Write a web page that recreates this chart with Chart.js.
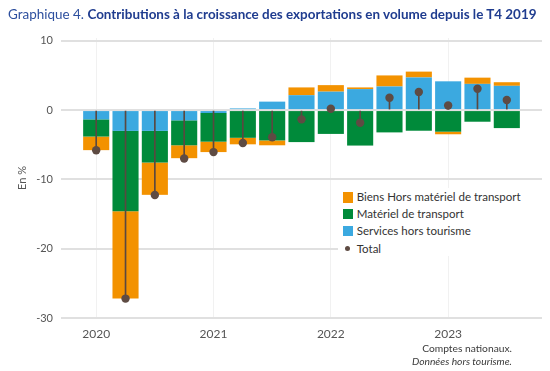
<!DOCTYPE html>
<html><head><meta charset="utf-8">
<script src="https://cdn.jsdelivr.net/npm/chart.js@4.4.1/dist/chart.umd.min.js"></script>
<style>
html,body{margin:0;padding:0;background:#fff;}
#wrap{position:relative;width:550px;height:371px;overflow:hidden;font-family:Lato,"Open Sans",sans-serif;}
#c{position:absolute;left:0;top:0;}
#title{position:absolute;left:8px;top:5px;white-space:nowrap;font-size:13px;line-height:18px;color:#1f3c8f;}
#title .lead{font-weight:400;color:#2d4f9e;}
#title b{font-weight:700;}
#legend{position:absolute;left:338px;top:188px;width:204px;height:68px;background:#fff;}
.li{position:absolute;left:0;height:14px;line-height:14px;font-size:11.5px;color:#333;white-space:nowrap;}
.li .sw{position:absolute;top:1.7px;}
.li .tx{position:absolute;left:18.7px;top:0;}
#foot{position:absolute;right:38px;top:342px;text-align:right;font-size:11px;color:#3a3a3a;line-height:13px;white-space:nowrap;}
#foot i{font-style:italic;}
</style></head>
<body>
<div id="wrap">
<canvas id="c" width="550" height="371"></canvas>
<div id="title"><span class="lead">Graphique 4.</span> <b>Contributions à la croissance des exportations en volume depuis le T4 2019</b></div>
<div id="legend"></div>
<div id="foot"><div id="f1">Comptes nationaux.</div><div><i>Données hors tourisme.</i></div></div>
</div>
<script>
const quarters = ['T1 2020','T2 2020','T3 2020','T4 2020','T1 2021','T2 2021','T3 2021','T4 2021','T1 2022','T2 2022','T3 2022','T4 2022','T1 2023','T2 2023','T3 2023'];
const services  = [-1.34, -3.0, -3.0, -1.48, -0.42, 0.24, 1.22, 2.15, 2.66, 3.03, 3.41, 4.71, 4.15, 3.78, 3.5];
const transport = [-2.48, -11.6, -4.57, -3.6, -4.14, -4.0, -4.38, -4.62, -3.44, -5.12, -3.22, -2.98, -3.12, -1.68, -2.6];
const biens     = [-1.96, -12.6, -4.66, -1.86, -1.5, -0.94, -0.7, 1.12, 0.94, 0.24, 1.59, 0.84, -0.37, 0.9, 0.52];
const total     = [-5.8, -27.2, -12.25, -6.99, -6.06, -4.75, -3.92, -1.34, 0.2, -1.82, 1.78, 2.62, 0.66, 3.08, 1.45];
const yearTicks = [2020, 2021, 2022, 2023];

const FONT = 'Lato, "Open Sans", sans-serif';
const COL = {biens:'#F39200', transport:'#008A3A', services:'#3BA9E0', total:'#5E4B43', stick:'#5A4840'};

// position of each quarter on the time axis (years)
const xs = quarters.map(q => parseInt(q.slice(3), 10) + (parseInt(q.charAt(1), 10) - 1) / 4);
const pts = arr => arr.map((v, i) => ({x: xs[i], y: v}));

const data = {
  datasets: [
    {type:'bar', label:'Services hors tourisme', data:pts(services), backgroundColor:COL.services, stack:'main', order:3},
    {type:'bar', label:'Matériel de transport', data:pts(transport), backgroundColor:COL.transport, stack:'main', order:3},
    {type:'bar', label:'Biens Hors matériel de transport', data:pts(biens), backgroundColor:COL.biens, stack:'main', order:3},
    {type:'bar', label:'_stick', data:pts(total), backgroundColor:COL.stick, stack:'stick', grouped:false, barThickness:1, order:2},
    {type:'line', label:'Total', data:pts(total), showLine:false, pointRadius:4.2, pointHoverRadius:4.2,
     pointBackgroundColor:COL.total, pointBorderColor:COL.total, pointBorderWidth:0, stack:'dots', order:1}
  ]
};

const chart = new Chart(document.getElementById('c'), {
  type:'bar',
  data,
  options:{
    responsive:false, animation:false, devicePixelRatio:1,
    layout:{padding:{top:38, right:8, left:12, bottom:0}},
    barPercentage:0.89, categoryPercentage:1.0,
    plugins:{legend:{display:false}, tooltip:{enabled:false}, title:{display:false}},
    scales:{
      x:{type:'linear', stacked:true, offset:false, min:2019.7, max:2023.8,
         afterFit(s){ s.height = 53; },
         afterBuildTicks(s){ s.ticks = yearTicks.map(v => ({value:v})); },
         border:{display:false},
         grid:{offset:false, color:'#f1f1f1', lineWidth:1, drawTicks:false},
         ticks:{padding:9, color:'#555', font:{family:FONT, size:12}, callback:v => String(v)}},
      y:{stacked:true, min:-30, max:10.4,
         afterFit(s){ s.width = 49; },
         border:{display:false},
         grid:{color:'#e0e0e0', lineWidth:2, drawTicks:false},
         ticks:{stepSize:10, includeBounds:false, padding:8, color:'#555', font:{family:FONT, size:11}},
         title:{display:true, text:'En %', color:'#555', font:{family:FONT, size:11}, padding:{top:4, bottom:0}}}
    }
  }
});

// HTML legend built from the datasets
const legendOrder = ['Biens Hors matériel de transport','Matériel de transport','Services hors tourisme','Total'];
const centers = [9.3, 26, 43, 60.7];
const lg = document.getElementById('legend');
legendOrder.forEach((name, k) => {
  const ds = data.datasets.find(d => d.label === name);
  const it = document.createElement('div');
  it.className = 'li';
  it.style.top = (centers[k] - 7) + 'px';
  const sw = document.createElement('span');
  sw.className = 'sw';
  if (ds.type === 'line') {
    sw.style.cssText = 'left:6.6px;top:4.3px;width:5.4px;height:5.4px;border-radius:50%;background:' + ds.pointBackgroundColor;
  } else {
    sw.style.cssText = 'left:4.7px;top:1.7px;width:10.6px;height:10.6px;background:' + ds.backgroundColor;
  }
  const tx = document.createElement('span');
  tx.className = 'tx';
  tx.textContent = name;
  it.appendChild(sw); it.appendChild(tx);
  lg.appendChild(it);
});

// fit text sizes to reference widths
function fit(el, target, apply) {
  const w = el.getBoundingClientRect().width;
  const fs = parseFloat(getComputedStyle(el).fontSize);
  const nfs = fs * target / w;
  (apply || [el]).forEach(e => e.style.fontSize = nfs + 'px');
}
fit(document.getElementById('title'), 529);
const txs = Array.from(document.querySelectorAll('.li'));
fit(txs[0].querySelector('.tx'), 164, txs.map(t => t.querySelector('.tx')));
const f1 = document.getElementById('f1');
f1.style.display = 'inline-block';
fit(f1, 90, [document.getElementById('foot')]);
f1.style.display = 'block';
</script>
</body></html>
